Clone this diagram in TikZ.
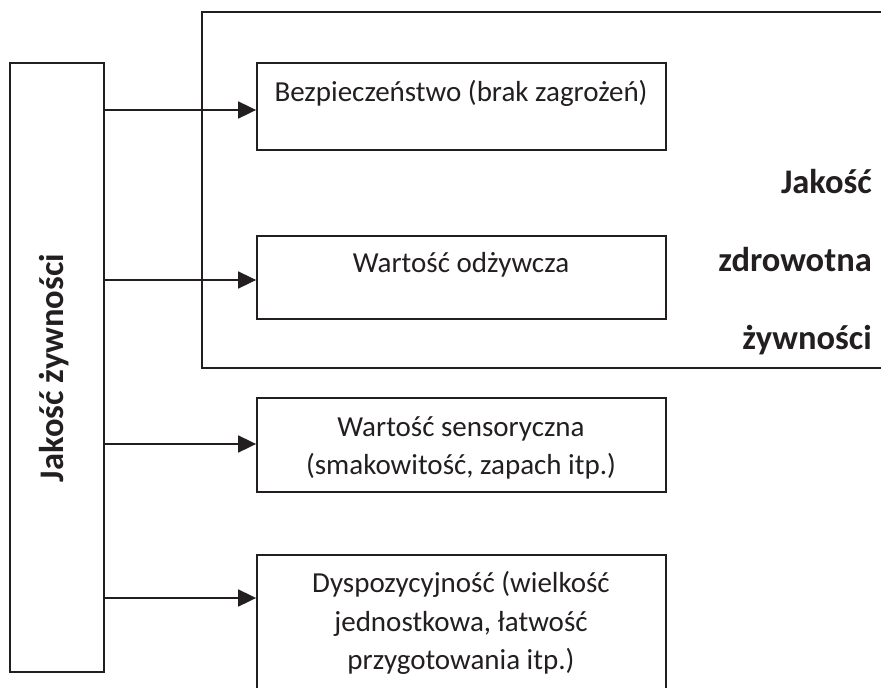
\documentclass[tikz,border=0pt]{standalone}
\usepackage{fontspec}
\setmainfont{Carlito}
\usetikzlibrary{arrows.meta}
\definecolor{ink}{HTML}{231F20}
\begin{document}
\begin{tikzpicture}[x=1pt,y=-1pt,
  box/.style={draw=ink, line width=1.8pt, inner sep=0pt},
  txt/.style={font=\fontsize{29}{38}\selectfont, text=ink, anchor=base, inner sep=0pt},
  btxt/.style={font=\fontsize{34.5}{40}\selectfont\bfseries, text=ink, inner sep=0pt},
  arr/.style={draw=ink, line width=1.8pt, -{Triangle[length=18pt,width=17pt]}},
  frame/.style={draw=ink, line width=1.8pt}]
\useasboundingbox (0,0) rectangle (881,688);
\clip (0,0) rectangle (881,688);
\fill[white] (0,0) rectangle (881,688);
% outer open frame
\coordinate (fTR) at (885,12);
\coordinate (fTL) at (202,12);
\coordinate (fBL) at (202,368);
\coordinate (fBR) at (885,368);
\draw[frame] (fTR) -- (fTL) -- (fBL) -- (fBR);
% boxes
\node[box, minimum width=94pt, minimum height=609pt] (L) at (57,367.5) {};
\node[box, minimum width=409pt, minimum height=87pt] (b1) at (461.5,106.5) {};
\node[box, minimum width=409pt, minimum height=83pt] (b2) at (461.5,277.5) {};
\node[box, minimum width=409pt, minimum height=94pt] (b3) at (461.5,445) {};
\node[box, minimum width=409pt, minimum height=165pt] (b4) at (461.5,637.5) {};
% arrows
\coordinate (a1) at (257,110);
\coordinate (a2) at (257,280);
\coordinate (a3) at (257,444);
\coordinate (a4) at (257,598);
\draw[arr] (L.east |- a1) -- (b1.west |- a1);
\draw[arr] (L.east |- a2) -- (b2.west |- a2);
\draw[arr] (L.east |- a3) -- (b3.west |- a3);
\draw[arr] (L.east |- a4) -- (b4.west |- a4);
% texts
\node[txt] (t1) at (461,101) {Bezpieczeństwo (brak zagrożeń)};
\node[txt] (t2) at (461,272) {Wartość odżywcza};
\node[txt] (t3a) at (461,436) {Wartość sensoryczna};
\node[txt] (t3b) at (461,474) {(smakowitość, zapach itp.)};
\node[txt] (t4a) at (461,592) {Dyspozycyjność (wielkość};
\node[txt] (t4b) at (461,631) {jednostkowa, łatwość};
\node[txt] (t4c) at (461,669) {przygotowania itp.)};
\node[btxt, anchor=base east] (j1) at (872,193) {Jakość};
\node[btxt, anchor=base east] (j2) at (872,271) {zdrowotna};
\node[btxt, anchor=base east] (j3) at (872,349) {żywności};
\node[btxt, rotate=90, anchor=base] (Lt) at (63,368) {Jakość żywności};
\end{tikzpicture}
\end{document}
